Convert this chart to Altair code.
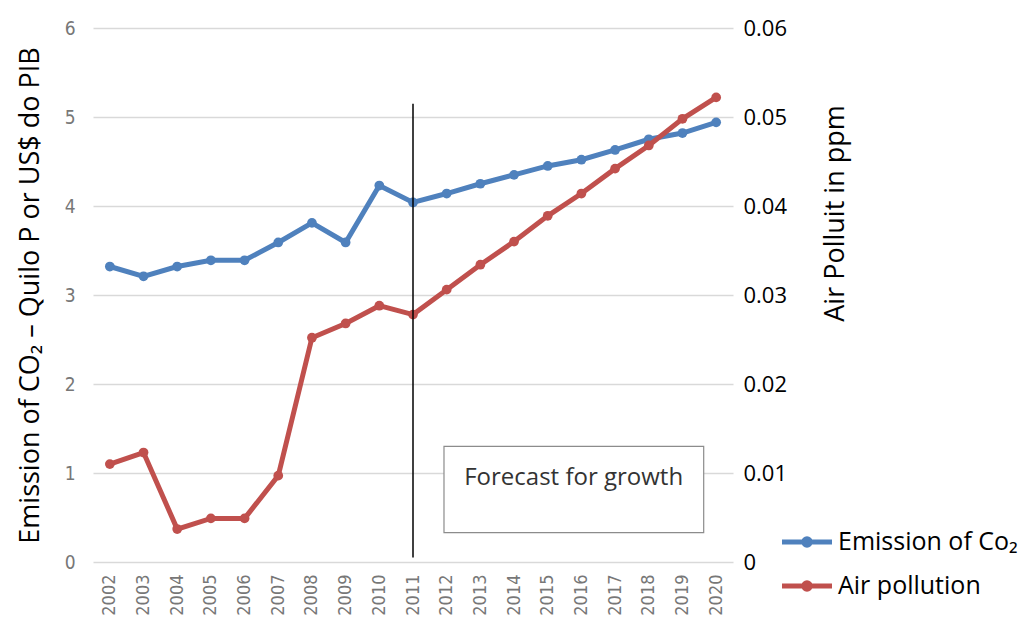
import altair as alt
import pandas as pd

# ---- data ----
years = list(range(2002, 2021))
co2 = [3.32, 3.21, 3.32, 3.39, 3.39, 3.59, 3.81, 3.59, 4.23, 4.04,
       4.14, 4.25, 4.35, 4.45, 4.52, 4.63, 4.75, 4.82, 4.94]
air = [0.0110, 0.0123, 0.0037, 0.0049, 0.0049, 0.0097, 0.0252, 0.0268, 0.0288, 0.0278,
       0.0306, 0.0334, 0.0360, 0.0389, 0.0414, 0.0442, 0.0468, 0.0498, 0.0522]
series_names = ["Emission of Co\u2082", "Air pollution"]
series_colors = ["#4F81BD", "#C0504D"]
left_ticks = [0, 1, 2, 3, 4, 5, 6]
right_ticks = [0, 0.01, 0.02, 0.03, 0.04, 0.05, 0.06]

# annotation: forecast divider and text box
forecast_year = [2011]
forecast_top = [0.0515]
box_x = [2011.92]
box_x2 = [2019.63]
box_y = [0.33]
box_y2 = [1.30]
box_text = ["Forecast for growth"]
box_text_x = [2015.77]
box_text_y = [0.94]

df_co2 = pd.DataFrame({"year": years, "value": co2, "series": series_names[0]})
df_air = pd.DataFrame({"year": years, "value": air, "series": series_names[1]})
df_rule = pd.DataFrame({"year": forecast_year, "top": forecast_top, "bottom": [0.0005]})
df_box = pd.DataFrame({"x": box_x, "x2": box_x2, "y": box_y, "y2": box_y2})
df_text = pd.DataFrame({"x": box_text_x, "y": box_text_y, "t": box_text})

TICK_FONT = "DejaVu Sans Condensed, Roboto, sans-serif"
TICK_GRAY = "#777777"

xscale = alt.Scale(domain=[2001.5, 2020.5], nice=False, zero=False)
xaxis = alt.Axis(values=years, format="d", labelAngle=-90, grid=False, domain=False,
                 ticks=False, labelPadding=12, labelFont=TICK_FONT,
                 labelFontSize=18, labelColor=TICK_GRAY, title=None)
x = alt.X("year:Q", scale=xscale, axis=xaxis)

color = alt.Color("series:N",
                  scale=alt.Scale(domain=series_names, range=series_colors),
                  legend=alt.Legend(
                      orient="none", legendX=699, legendY=499, title=None,
                      symbolType="M-2,0H2M0.26,0A0.26,0.26,0,1,1,-0.26,0A0.26,0.26,0,1,1,0.26,0",
                      symbolSize=625, symbolStrokeWidth=5, labelOffset=16,
                      labelFont="Open Sans", labelFontSize=25, labelColor="black",
                      rowPadding=15, padding=0, labelLimit=400))

yleft_scale = alt.Scale(domain=[0, 6], nice=False)
yleft_axis = alt.Axis(values=left_ticks, grid=True, gridColor="#d9d9d9", gridWidth=1.5,
                      domain=False, ticks=False, labelPadding=18,
                      labelFont=TICK_FONT, labelFontSize=19,
                      labelColor=TICK_GRAY,
                      title="Emission of CO\u2082 \u2013 Quilo P or US$ do PIB",
                      titleFont="Open Sans", titleFontSize=27, titleFontWeight="normal",
                      titleColor="black", titlePadding=20)

co2_line = alt.Chart(df_co2).mark_line(strokeWidth=5).encode(
    x=x, y=alt.Y("value:Q", scale=yleft_scale, axis=yleft_axis), color=color)
co2_pts = alt.Chart(df_co2).mark_point(filled=True, size=95, opacity=1,
                                       color=series_colors[0]).encode(
    x=x, y=alt.Y("value:Q", scale=yleft_scale, axis=yleft_axis))
box = alt.Chart(df_box).mark_rect(fill="white", stroke="#8c8c8c", strokeWidth=1.2).encode(
    x=alt.X("x:Q", scale=xscale, axis=xaxis), x2="x2:Q",
    y=alt.Y("y:Q", scale=yleft_scale, axis=yleft_axis), y2="y2:Q")
txt = alt.Chart(df_text).mark_text(font="Open Sans", fontSize=24, color="#333333",
                                   align="center", baseline="middle").encode(
    x=alt.X("x:Q", scale=xscale, axis=xaxis),
    y=alt.Y("y:Q", scale=yleft_scale, axis=yleft_axis), text="t:N")

left = alt.layer(co2_line, co2_pts, box, txt)

yright_scale = alt.Scale(domain=[0, 0.06], nice=False)
yright_axis = alt.Axis(orient="right", values=right_ticks, grid=False, domain=False,
                       ticks=False, labelPadding=10,
                       labelExpr="datum.value == 0 ? '0' : format(datum.value, '.2f')",
                       labelFont="Open Sans", labelFontSize=22, labelColor="black",
                       title="Air Polluit in ppm", titleFont="Open Sans", titleFontSize=27,
                       titleFontWeight="normal", titleColor="black", titleAngle=270,
                       titleY=185, titleX=102, titleAlign="center", titleBaseline="middle")

air_line = alt.Chart(df_air).mark_line(strokeWidth=5).encode(
    x=x, y=alt.Y("value:Q", scale=yright_scale, axis=yright_axis), color=color)
air_pts = alt.Chart(df_air).mark_point(filled=True, size=95, opacity=1,
                                       color=series_colors[1]).encode(
    x=x, y=alt.Y("value:Q", scale=yright_scale, axis=yright_axis))
rule = alt.Chart(df_rule).mark_rule(color="black", strokeWidth=1.5).encode(
    x=alt.X("year:Q", scale=xscale, axis=xaxis),
    y=alt.Y("top:Q", scale=yright_scale, axis=yright_axis), y2="bottom:Q")

right = alt.layer(air_line, air_pts, rule)

chart = alt.layer(left, right).resolve_scale(y="independent").properties(
    width=640, height=534,
    background="white",
    autosize=alt.AutoSizeParams(type="none"),
    padding={"left": 93, "top": 28, "right": 300, "bottom": 71},
).configure_view(stroke="transparent", strokeWidth=0).configure_axis(
    domain=False, ticks=False)

chart.save("out.html", embed_options={"renderer": "svg", "actions": False})
